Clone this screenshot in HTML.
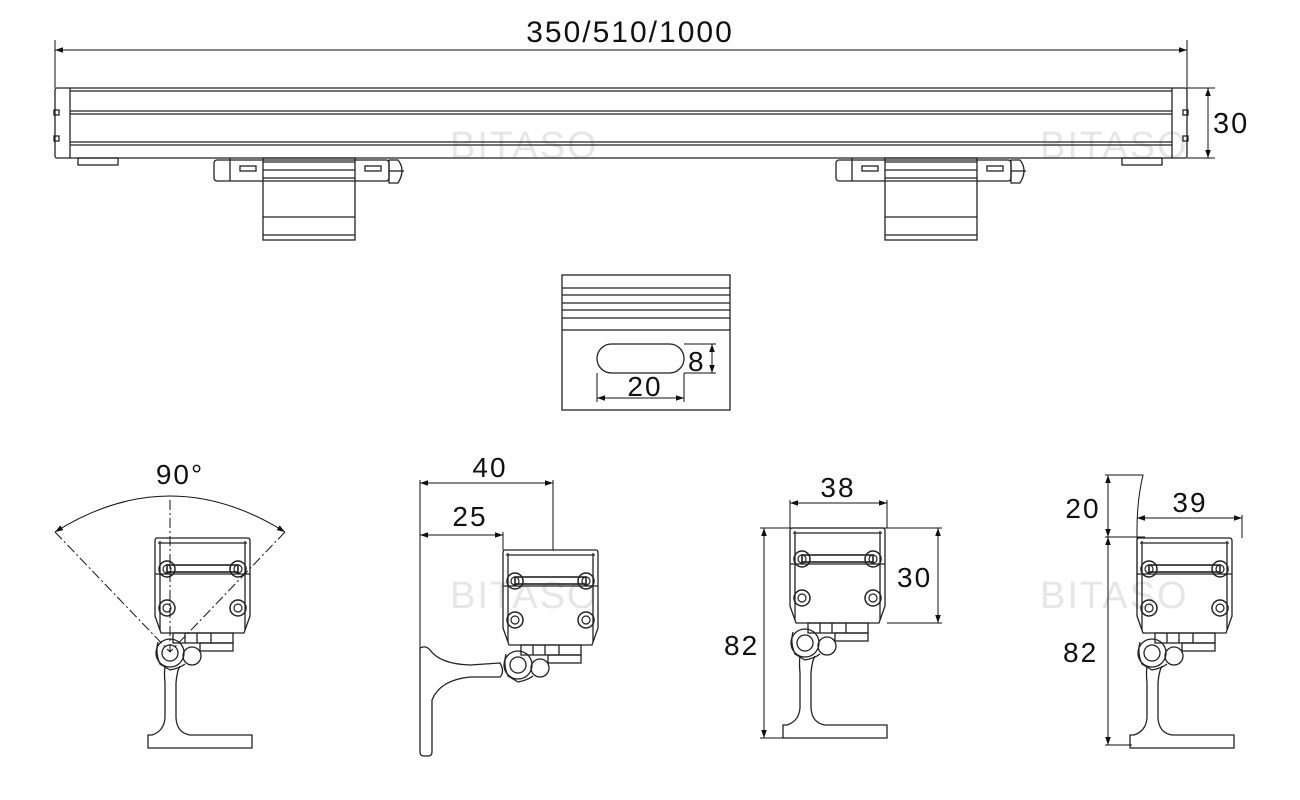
<!DOCTYPE html>
<html><head><meta charset="utf-8"><style>
html,body{margin:0;padding:0;background:#fff;width:1300px;height:800px;overflow:hidden}
svg{display:block}
text{font-family:"Liberation Sans",sans-serif;fill:#111;letter-spacing:2px}
</style></head><body>
<svg width="1300" height="800" viewBox="0 0 1300 800" xmlns="http://www.w3.org/2000/svg">
<defs>
<marker id="a" viewBox="0 0 10 10" refX="10" refY="5" markerWidth="10" markerHeight="8" orient="auto-start-reverse" markerUnits="userSpaceOnUse"><path d="M0,1.5 L10,5 L0,8.5z" fill="#111"/></marker>
<g id="scr"><circle r="8" fill="none" stroke="#222" stroke-width="1.5"/><circle r="4" fill="none" stroke="#222" stroke-width="1.2"/></g>
<g id="head" fill="none" stroke="#222" stroke-width="1.3">
<path d="M2,0 H93 Q95,0 95,3 V78 L89,95 H6 L0,78 V3 Q0,0 2,0z"/>
<line x1="5" y1="3" x2="5" y2="92"/><line x1="90" y1="3" x2="90" y2="92"/>
<line x1="3" y1="5" x2="92" y2="5"/>
<rect x="12" y="27" width="71" height="7" stroke-width="1.6"/>
<line x1="0" y1="36" x2="95" y2="36"/>
<use href="#scr" x="12" y="31"/><use href="#scr" x="83" y="31"/>
<use href="#scr" x="12" y="70"/><use href="#scr" x="83" y="70"/>
<rect x="18" y="95" width="60" height="10"/>
<rect x="45" y="105" width="33" height="8"/>
<line x1="30" y1="95" x2="30" y2="105"/><line x1="42" y1="95" x2="42" y2="105"/><line x1="56" y1="95" x2="56" y2="105"/>
<circle cx="15" cy="115" r="14"/><circle cx="15" cy="115" r="8"/>
<circle cx="37" cy="118" r="9"/>
<path d="M3,104 Q0,115 5,126 L15,132 Q25,130 30,126"/>
</g>
<g id="stem" fill="none" stroke="#222" stroke-width="1.3">
<path d="M10,128 Q9,135 10,145 V180 Q9,193 -3,197 H-7 V210 H97 V197 H35 Q22,195 21,180 V145 Q22,133 25,128"/>
</g>
</defs>

<g font-size="38" opacity="0.2">
<text x="450" y="158" style="fill:#888">BITASO</text>
<text x="1040" y="158" style="fill:#888">BITASO</text>
<text x="450" y="608" style="fill:#888">BITASO</text>
<text x="1040" y="608" style="fill:#888">BITASO</text>
</g>

<g stroke="#111" stroke-width="1" fill="none">
<line x1="55" y1="40" x2="55" y2="88"/><line x1="1187" y1="40" x2="1187" y2="88"/>
<line x1="55" y1="50" x2="1187" y2="50" marker-start="url(#a)" marker-end="url(#a)"/>
<line x1="1187" y1="88" x2="1215" y2="88"/><line x1="1187" y1="158" x2="1215" y2="158"/>
<line x1="1208" y1="88" x2="1208" y2="158" marker-start="url(#a)" marker-end="url(#a)"/>
</g>
<text x="630" y="42" font-size="30" text-anchor="middle">350/510/1000</text>
<text x="1213" y="133" font-size="29">30</text>

<g fill="none" stroke="#222" stroke-width="1.3">
<rect x="55" y="88" width="1132" height="70" rx="2"/>
<line x1="70" y1="88" x2="70" y2="158"/><line x1="1172" y1="88" x2="1172" y2="158"/>
<line x1="70" y1="91" x2="1172" y2="91"/>
<line x1="70" y1="111" x2="1172" y2="111"/><line x1="70" y1="114" x2="1172" y2="114"/>
<line x1="70" y1="142" x2="1172" y2="142"/><line x1="70" y1="145" x2="1172" y2="145"/>
<rect x="54" y="110" width="5" height="5"/><rect x="54" y="136" width="5" height="5"/>
<rect x="1183" y="110" width="5" height="5"/><rect x="1183" y="136" width="5" height="5"/>
<rect x="78" y="158" width="40" height="7"/><rect x="1122" y="158" width="40" height="7"/>
<g id="br">
<rect x="214" y="160" width="175" height="21" rx="3"/>
<line x1="230" y1="158" x2="230" y2="181"/>
<rect x="263" y="158" width="92" height="82"/>
<line x1="263" y1="162" x2="355" y2="162"/><line x1="263" y1="170" x2="355" y2="170"/><line x1="263" y1="178" x2="355" y2="178"/><line x1="263" y1="217" x2="355" y2="217"/><line x1="263" y1="235" x2="355" y2="235"/>
<rect x="240" y="166" width="16" height="5"/><rect x="365" y="166" width="16" height="5"/>
<path d="M389,160 H398 Q406,170 398,183 H389z"/><line x1="389" y1="171" x2="404" y2="171"/>
</g>
<use href="#br" x="622"/>
</g>

<g fill="none" stroke="#222" stroke-width="1.3">
<rect x="562" y="275" width="168" height="135"/>
<line x1="562" y1="288" x2="730" y2="288"/><line x1="562" y1="295" x2="730" y2="295"/>
<line x1="562" y1="303" x2="730" y2="303"/><line x1="562" y1="310" x2="730" y2="310"/>
<line x1="562" y1="318" x2="730" y2="318"/><line x1="562" y1="330" x2="730" y2="330"/>
<rect x="597" y="344" width="87" height="29" rx="14.5"/>
</g>
<g stroke="#111" stroke-width="1" fill="none">
<line x1="684" y1="344" x2="716" y2="344"/><line x1="684" y1="373" x2="716" y2="373"/>
<line x1="712" y1="344" x2="712" y2="373" marker-start="url(#a)" marker-end="url(#a)"/>
<line x1="597" y1="373" x2="597" y2="402"/><line x1="684" y1="373" x2="684" y2="402"/>
<line x1="597" y1="398" x2="684" y2="398" marker-start="url(#a)" marker-end="url(#a)"/>
</g>
<text x="688" y="371" font-size="28">8</text>
<text x="645" y="396" font-size="28" text-anchor="middle">20</text>

<use href="#head" x="155" y="538"/><use href="#stem" x="155" y="538"/>
<g stroke="#111" stroke-width="1" fill="none">
<path d="M55,532 Q170,460 285,532" marker-start="url(#a)" marker-end="url(#a)"/>
<line x1="170" y1="500" x2="170" y2="652" stroke-dasharray="10,3,2,3"/>
<line x1="55" y1="532" x2="170" y2="652" stroke-dasharray="10,3,2,3"/>
<line x1="285" y1="532" x2="170" y2="652" stroke-dasharray="10,3,2,3"/>
</g>
<text x="180" y="484" font-size="28" text-anchor="middle">90°</text>

<use href="#head" x="503" y="550"/>
<g fill="none" stroke="#222" stroke-width="1.3">
<path d="M420,648 Q426,645 430,650 Q440,664 470,665 L500,663 Q505,672 500,677 L470,677 Q440,680 432,700 V752 Q432,756 428,756 H424 Q420,756 420,752z"/>
</g>
<g stroke="#111" stroke-width="1" fill="none">
<line x1="420" y1="480" x2="420" y2="648"/>
<line x1="553" y1="480" x2="553" y2="550"/><line x1="503" y1="532" x2="503" y2="550"/>
<line x1="420" y1="483" x2="553" y2="483" marker-start="url(#a)" marker-end="url(#a)"/>
<line x1="420" y1="535" x2="503" y2="535" marker-start="url(#a)" marker-end="url(#a)"/>
</g>
<text x="490" y="477" font-size="28" text-anchor="middle">40</text>
<text x="470" y="526" font-size="28" text-anchor="middle">25</text>

<use href="#head" x="790" y="528"/><use href="#stem" x="790" y="528"/>
<g stroke="#111" stroke-width="1" fill="none">
<line x1="790" y1="500" x2="790" y2="528"/><line x1="887" y1="500" x2="887" y2="528"/>
<line x1="790" y1="503" x2="887" y2="503" marker-start="url(#a)" marker-end="url(#a)"/>
<line x1="760" y1="528" x2="942" y2="528"/><line x1="887" y1="623" x2="942" y2="623"/>
<line x1="938" y1="528" x2="938" y2="623" marker-start="url(#a)" marker-end="url(#a)"/>
<line x1="760" y1="738" x2="785" y2="738"/>
<line x1="764" y1="528" x2="764" y2="738" marker-start="url(#a)" marker-end="url(#a)"/>
</g>
<text x="838" y="497" font-size="28" text-anchor="middle">38</text>
<text x="897" y="587" font-size="28">30</text>
<text x="724" y="655" font-size="28">82</text>

<use href="#head" x="1137" y="538"/><use href="#stem" x="1137" y="538"/>
<g stroke="#111" stroke-width="1" fill="none">
<path d="M1105,475 H1143 Q1137,500 1137,530 V610"/>
<line x1="1105" y1="537" x2="1145" y2="537"/>
<line x1="1108" y1="475" x2="1108" y2="537" marker-start="url(#a)" marker-end="url(#a)"/>
<line x1="1108" y1="537" x2="1108" y2="745" marker-start="url(#a)" marker-end="url(#a)"/>
<line x1="1105" y1="745" x2="1132" y2="745"/>
<line x1="1242" y1="515" x2="1242" y2="538"/>
<line x1="1137" y1="518" x2="1242" y2="518" marker-start="url(#a)" marker-end="url(#a)"/>
</g>
<text x="1083" y="518" font-size="28" text-anchor="middle">20</text>
<text x="1190" y="512" font-size="28" text-anchor="middle">39</text>
<text x="1063" y="662" font-size="28">82</text>
</svg>
</body></html>
